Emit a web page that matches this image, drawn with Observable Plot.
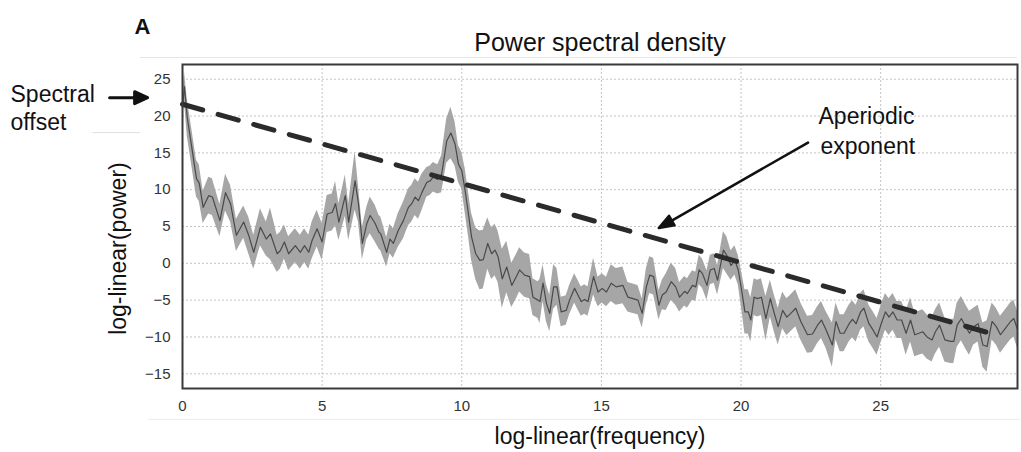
<!DOCTYPE html>
<html><head><meta charset="utf-8">
<script src="https://cdn.jsdelivr.net/npm/d3@7"></script>
<script src="https://cdn.jsdelivr.net/npm/@observablehq/plot@0.6"></script>
<style>body{margin:0;background:#fff;} svg{display:block;overflow:visible}</style>
</head><body><div id="chart"></div>
<script>
// Frequency (x, log-linear), mean power and half-width of the shaded band
const freq = [0.00,0.07,0.17,0.35,0.50,0.60,0.74,0.94,1.07,1.34,1.54,1.72,1.93,2.19,2.37,2.55,2.79,3.00,3.15,3.39,3.50,3.65,3.80,4.04,4.22,4.37,4.52,4.64,4.82,5.00,5.18,5.36,5.48,5.60,5.83,5.95,6.18,6.30,6.44,6.60,6.72,6.90,7.04,7.10,7.31,7.43,7.55,7.73,7.91,8.09,8.21,8.33,8.45,8.57,8.75,8.87,8.98,9.14,9.28,9.46,9.61,9.76,9.88,10.00,10.12,10.24,10.35,10.50,10.65,10.77,10.93,11.07,11.19,11.30,11.45,11.61,11.79,11.97,12.07,12.25,12.43,12.55,12.73,12.80,12.91,13.03,13.15,13.29,13.41,13.56,13.74,13.86,14.04,14.16,14.28,14.40,14.52,14.72,14.88,15.03,15.18,15.35,15.53,15.77,15.95,16.13,16.31,16.46,16.61,16.73,16.87,17.06,17.18,17.32,17.50,17.66,17.80,17.98,18.08,18.26,18.38,18.50,18.62,18.78,18.90,19.04,19.16,19.37,19.49,19.64,19.78,19.90,20.02,20.14,20.26,20.35,20.47,20.59,20.73,20.89,21.05,21.19,21.33,21.49,21.64,21.78,21.96,22.14,22.38,22.56,22.74,22.88,23.04,23.27,23.40,23.55,23.69,23.87,23.99,24.12,24.28,24.40,24.58,24.72,24.87,25.02,25.17,25.30,25.44,25.59,25.75,25.91,26.07,26.22,26.37,26.51,26.66,26.84,26.96,27.11,27.30,27.50,27.62,27.74,27.89,28.04,28.18,28.33,28.49,28.66,28.81,28.99,29.14,29.29,29.47,29.65,29.77,29.90];
const power = [21.0,24.0,19.8,15.3,11.5,10.9,7.6,9.2,9.0,5.8,9.6,8.1,3.8,5.6,3.8,1.5,4.9,3.3,4.0,1.3,1.7,2.9,1.3,2.4,1.5,2.4,1.5,3.1,4.7,2.9,6.7,6.9,8.1,5.6,9.2,5.6,11.2,8.1,2.7,5.4,6.5,5.4,4.2,4.0,1.5,3.3,2.7,4.5,5.8,7.6,8.1,9.0,8.5,9.6,11.0,11.2,11.7,11.4,12.1,16.6,17.7,16.2,13.5,12.6,9.9,6.7,3.6,1.3,0.4,0.5,2.7,1.3,1.8,0.9,-2.1,-0.5,-3.0,-1.7,-0.9,-1.6,-1.8,-4.6,-5.0,-5.2,-2.7,-5.4,-6.8,-3.2,-3.2,-6.6,-6.4,-5.0,-3.4,-4.3,-5.2,-4.9,-5.2,-1.8,-3.9,-3.4,-3.9,-2.7,-3.2,-3.0,-4.6,-4.8,-5.0,-6.8,-3.2,-1.6,-1.8,-5.7,-4.3,-3.9,-2.5,-3.2,-4.6,-3.8,-4.1,-3.0,-3.2,-0.9,-1.4,-3.0,-0.9,-0.7,-2.3,1.8,1.1,-0.3,0.4,-0.9,-3.6,-6.6,-6.6,-7.7,-4.6,-4.8,-4.6,-7.5,-4.8,-6.8,-8.6,-6.4,-7.3,-6.8,-6.1,-7.9,-9.7,-9.6,-8.4,-7.7,-9.0,-11.1,-7.9,-9.5,-9.5,-8.2,-7.6,-8.2,-6.6,-6.1,-8.2,-9.0,-10.0,-8.2,-6.6,-7.3,-6.6,-7.7,-7.7,-9.5,-7.7,-9.7,-9.5,-9.3,-10.0,-10.4,-9.3,-8.4,-10.4,-10.6,-10.6,-8.4,-7.5,-8.6,-9.5,-8.6,-8.2,-11.1,-11.3,-7.9,-8.6,-9.7,-8.8,-7.9,-7.5,-9.0];
const spread = [1.5,2.0,2.5,2.5,2.5,2.5,2.2,2.5,2.5,2.2,2.5,2.5,2.2,2.2,2.5,2.3,2.5,2.3,3.5,2.5,2.5,2.3,2.3,2.3,2.3,2.3,2.3,2.5,2.5,2.5,2.5,2.5,3.0,2.5,2.8,2.5,4.0,2.5,2.2,2.2,2.5,2.5,2.3,2.3,2.0,2.0,2.0,2.3,2.5,2.5,2.5,2.5,2.5,2.5,2.0,2.0,2.0,2.0,2.5,3.0,3.5,3.0,2.5,2.5,3.0,3.0,3.2,3.5,4.0,4.0,3.5,3.5,3.5,3.5,4.0,3.5,3.0,3.0,3.0,3.0,3.0,2.5,2.5,3.0,2.5,2.5,2.5,3.0,2.5,2.0,2.0,2.0,2.0,2.0,2.0,2.0,2.0,2.5,2.0,2.0,2.0,2.5,2.5,2.5,2.0,2.0,2.0,2.0,2.5,2.5,2.5,2.0,2.0,2.5,2.5,2.5,2.0,2.0,2.0,2.0,2.0,2.0,2.0,2.0,2.0,2.0,2.0,2.5,2.5,2.0,2.0,2.0,2.5,3.0,3.0,3.0,2.5,2.5,2.5,3.0,2.5,2.5,2.5,2.5,2.5,2.5,2.5,2.5,2.5,2.5,2.5,2.5,2.5,3.0,2.5,2.5,2.5,2.5,2.5,2.5,2.5,2.5,2.5,2.5,2.5,2.5,2.5,2.5,2.5,2.5,2.5,3.0,3.0,3.0,3.0,3.0,3.0,3.0,3.0,3.0,3.0,3.0,3.0,3.0,3.0,3.0,3.0,2.5,2.5,3.0,3.5,2.5,2.5,2.5,2.5,2.5,2.5,2.5];

// Aperiodic fit (dashed line): offset at 0 Hz and value at the end
const fitFreq = [0, 29.3];
const fitPower = [21.6, -9.9];

const xTicks = [0, 5, 10, 15, 20, 25];
const yTicks = [-15, -10, -5, 0, 5, 10, 15, 20, 25];

const title = "Power spectral density";
const xLabel = "log-linear(frequency)";
const yLabel = "log-linear(power)";
const panelLabel = "A";

const data = freq.map((f, i) => ({f, p: power[i], lo: power[i] - spread[i], hi: power[i] + spread[i]}));
const fit = fitFreq.map((f, i) => ({f, p: fitPower[i]}));

const arrowShape = (hl, hw) => ({
  draw(context, l) {
    context.moveTo(0, 0);
    context.lineTo(0, -l + hl * 0.6);
    context.moveTo(-hw, -l + hl);
    context.lineTo(0, -l);
    context.lineTo(hw, -l + hl);
    context.closePath();
  }
});

const FONT = "'Liberation Sans', Arial, Helvetica, sans-serif";
const T = {lineAnchor: "middle", fill: "#111", fontSize: 23};

const chart = Plot.plot({
  width: 1021,
  height: 452,
  marginLeft: 182,
  marginRight: 4,
  marginTop: 64,
  marginBottom: 64,
  style: {fontFamily: FONT, color: "#111", background: "#fff", overflow: "visible"},
  x: {domain: [0, 29.9]},
  y: {domain: [-17, 27]},
  marks: [
    Plot.gridX(xTicks, {stroke: "#c4c4c4", strokeOpacity: 1, strokeDasharray: "2,2"}),
    Plot.gridY(yTicks, {stroke: "#c4c4c4", strokeOpacity: 1, strokeDasharray: "2,2"}),
    Plot.areaY(data, {x: "f", y1: "lo", y2: "hi", fill: "#a6a6a6"}),
    Plot.lineY(data, {x: "f", y: "p", stroke: "#4a4a4a", strokeWidth: 1.2}),
    Plot.line(fit, {x: "f", y: "p", stroke: "#2b2b2b", strokeWidth: 5, strokeDasharray: "21,16"}),
    Plot.frame({stroke: "#3a3a3a", strokeWidth: 2}),
    Plot.axisX(xTicks, {tickSize: 0, tickPadding: 12, fontSize: 15, fill: "#333", label: null}),
    Plot.axisY(yTicks, {tickSize: 0, tickPadding: 12, fontSize: 15, fill: "#333", label: null}),
    // faint scan rules
    Plot.ruleY([27.95], {x1: -1.5, x2: 29.9, stroke: "#e6e6e6"}),
    Plot.ruleY([17.76], {x1: -3.2, x2: -1.5, stroke: "#e0e0e0"}),
    Plot.ruleY([-21.2], {x1: -1.2, x2: 30.0, stroke: "#ececec"}),
    // titles
    Plot.text([title], {...T, frameAnchor: "top", dy: -22, fontSize: 25}),
    Plot.text([xLabel], {...T, frameAnchor: "bottom", dy: 48}),
    Plot.text([yLabel], {...T, x: -2.27, y: 2.0, rotate: -90}),
    Plot.text([panelLabel], {...T, frameAnchor: "top-left", textAnchor: "start", dx: -48, dy: -38, fontSize: 22, fontWeight: "bold"}),
    // annotations
    Plot.text(["Spectral"], {...T, frameAnchor: "top-left", textAnchor: "start", dx: -172, dy: 30}),
    Plot.text(["offset"], {...T, frameAnchor: "top-left", textAnchor: "start", dx: -172, dy: 58}),
    Plot.text(["Aperiodic"], {...T, frameAnchor: "top-left", textAnchor: "start", dx: 636, dy: 52}),
    Plot.text(["exponent"], {...T, frameAnchor: "top-left", textAnchor: "start", dx: 638, dy: 82}),
    Plot.vector([{x: -2.61, y: 22.5}], {x: "x", y: "y", length: 38, rotate: 90, anchor: "start", shape: arrowShape(13, 6), stroke: "#111", fill: "#111", strokeWidth: 3}),
    Plot.vector([{x: 22.4, y: 16.4}], {x: "x", y: "y", length: 172, rotate: -119.8, anchor: "start", shape: arrowShape(15, 5.5), stroke: "#111", fill: "#111", strokeWidth: 2.5})
  ]
});
document.getElementById("chart").append(chart);
</script>
</body></html>
